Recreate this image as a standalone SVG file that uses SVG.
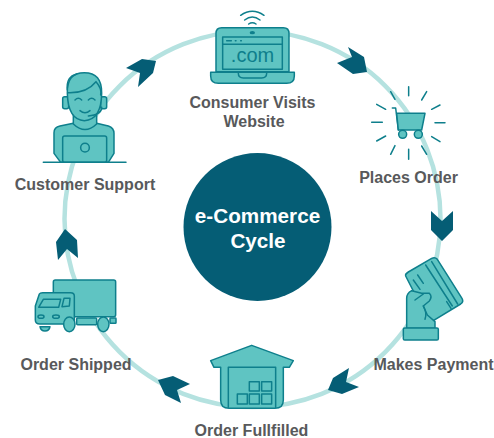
<svg xmlns="http://www.w3.org/2000/svg" width="494" height="438" viewBox="0 0 494 438">
<style>
text{font-family:"Liberation Sans",Arial,sans-serif;font-weight:700;text-anchor:middle}
.l{font-size:16px;fill:#58595B}
.c{font-size:20.700px;fill:#fff}
.i{fill:#5FC4C2;stroke:#0E7F8C;stroke-width:4.5;stroke-linejoin:round;stroke-linecap:round}
.n{fill:none;stroke:#0E7F8C;stroke-width:4.5;stroke-linejoin:round;stroke-linecap:round}
.a{fill:#055D75}
.w{fill:#fff}
</style>
<g id="connectors">
<circle cx="252.500" cy="219" r="188" fill="none" stroke="#B5E2E0" stroke-width="4.500"/>
<polygon class="a" points="348,47 364,57 367,72 353,74 337,63 352,57"/>
<polygon class="a" points="431,211 442,221 453,211 453,230 442,241 431,230"/>
<polygon class="a" points="349,368 346,382 359,387 342,394 328,390 333,378"/>
<polygon class="a" points="158,380 173,376 190,384 177,390 181,403 165,395"/>
<polygon class="a" points="65,229 77,240 78,258 67,249 58,260 56,242"/>
<polygon class="a" points="126,68 142,59 156,61 153,73 138,87 140,73"/>
</g>
<g id="center">
<circle cx="257.500" cy="227" r="74" fill="#055D75"/>
<text class="c" x="257.500" y="222.500">e-Commerce</text>
<text class="c" x="258" y="248">Cycle</text>
</g>
<g id="visit">
<g transform="translate(190,0) scale(.3333)">
<path class="n" d="M152 46Q187 22 222 46M164 60Q187 42 210 60M176 72Q187 64 198 72"/>
<path class="i" d="M78 215V100Q78 83 95 83H280Q297 83 297 100V215Z"/>
<path class="i" d="M62 217H313V228Q313 250 290 250H85Q62 250 62 228Z"/>
<rect class="n" x="98" y="111" width="179" height="97"/>
<path class="n" d="M98 133H277M110 122H124M136 122H138M152 122H154M145 220Q145 234 160 234H215Q230 234 230 220"/>
<ellipse cx="187" cy="98" rx="8" ry="5" fill="#0E7F8C"/>
</g>
<text x="252.500" y="62" font-size="20" style="font-family:'Liberation Sans',Arial,sans-serif;font-weight:400;fill:#0E7F8C">.com</text>
<text class="l" x="252.500" y="107.500">Consumer Visits</text>
<text class="l" x="254" y="127">Website</text>
</g>
<g id="order">
<g transform="translate(330,40) scale(.3333)">
<path class="n" d="M236 140V167M290 155L275 180M330 195L305 208M345 248H315M330 305L305 290M290 343L275 318M236 358V328M182 343L195 317M140 303L167 288M125 247H157M140 193L167 208M182 155L195 178"/>
<path class="n" d="M187 204H197L205 270"/>
<path class="i" d="M200 220H285L275 270H205Z"/>
<circle class="i" cx="218" cy="283" r="12"/>
<circle class="i" cx="265" cy="283" r="12"/>
</g>
<text class="l" x="408.500" y="183">Places Order</text>
</g>
<g id="payment">
<g transform="translate(390,200) scale(.3333)">
<path class="i" d="M47 228Q45 222 55 216L125 175Q135 170 142 178L216 295Q222 305 212 312L130 362Q120 365 112 355Z"/>
<path class="n" d="M107 195L187 318M125 185L203 312M83 225L100 250M70 240L90 268M170 305L183 325"/>
<path class="i" d="M50 385V295Q50 280 65 272L95 280L118 280Q128 290 118 303L100 318L112 345L135 365V385Z"/>
<rect class="i" x="40" y="384" width="105" height="36" rx="4"/>
<path class="n" d="M75 300L100 282M100 318Q112 340 105 358"/>
</g>
<text class="l" x="433.500" y="370">Makes Payment</text>
</g>
<g id="fulfilled">
<g transform="translate(150,330) scale(.3333)">
<path class="i" d="M305 46L430 92L418 112H400V210Q400 235 375 235H237Q212 235 212 210V112H192L182 92Z"/>
<path class="n" d="M235 232V112H377V232"/>
<rect class="n" x="298" y="155" width="30" height="28"/>
<rect class="n" x="335" y="155" width="30" height="28"/>
<rect class="n" x="262" y="192" width="30" height="30"/>
<rect class="n" x="298" y="192" width="30" height="30"/>
<rect class="n" x="335" y="192" width="30" height="30"/>
</g>
<text class="l" x="251.500" y="436">Order Fullfilled</text>
</g>
<g id="shipped">
<g transform="translate(20,220) scale(.3333)">
<rect class="i" x="100" y="180" width="187" height="110" rx="6"/>
<path class="i" d="M58 222Q60 218 68 218H152Q163 218 163 228V312H60Q46 312 46 300V258Z"/>
<path class="n" d="M56 262L70 238H122L116 262ZM126 260L132 235H150L148 258Z"/>
<ellipse class="n" cx="63" cy="290" rx="9" ry="5"/>
<ellipse class="n" cx="108" cy="290" rx="10" ry="5"/>
<path class="i" d="M60 320H90Q88 333 75 333Q62 333 60 320Z"/>
<rect class="i" x="170" y="294" width="60" height="20" rx="3"/>
<rect class="i" x="270" y="294" width="18" height="16" rx="2"/>
<ellipse class="i" cx="148" cy="313" rx="17" ry="22"/>
<ellipse class="i" cx="250" cy="313" rx="17" ry="22"/>
</g>
<text class="l" x="76" y="370">Order Shipped</text>
</g>
<g id="support">
<g transform="translate(40,50) scale(.3333)">
<path class="i" d="M42 310V248Q42 232 60 228L100 220H170L205 228Q222 234 222 250V310L205 337H62Z"/>
<path class="i" d="M100 190V222Q135 255 170 222V190Z"/>
<rect class="i" x="68" y="140" width="18" height="36" rx="6"/>
<rect class="i" x="182" y="140" width="18" height="36" rx="6"/>
<path class="i" d="M82 130Q80 68 133 68Q186 68 185 130Q184 210 133 212Q84 210 82 130Z"/>
<path class="n" d="M84 128Q140 130 168 95Q186 115 182 135M82 120Q78 80 110 72M105 150Q115 140 125 150M145 150Q155 140 165 150M120 182Q135 195 150 182M185 172Q185 195 145 198"/>
<rect class="i" x="68" y="258" width="132" height="79" rx="6"/>
<circle class="n" cx="135" cy="293" r="13"/>
<path class="n" d="M10 337H258"/>
</g>
<text class="l" x="85" y="190">Customer Support</text>
</g>
</svg>
